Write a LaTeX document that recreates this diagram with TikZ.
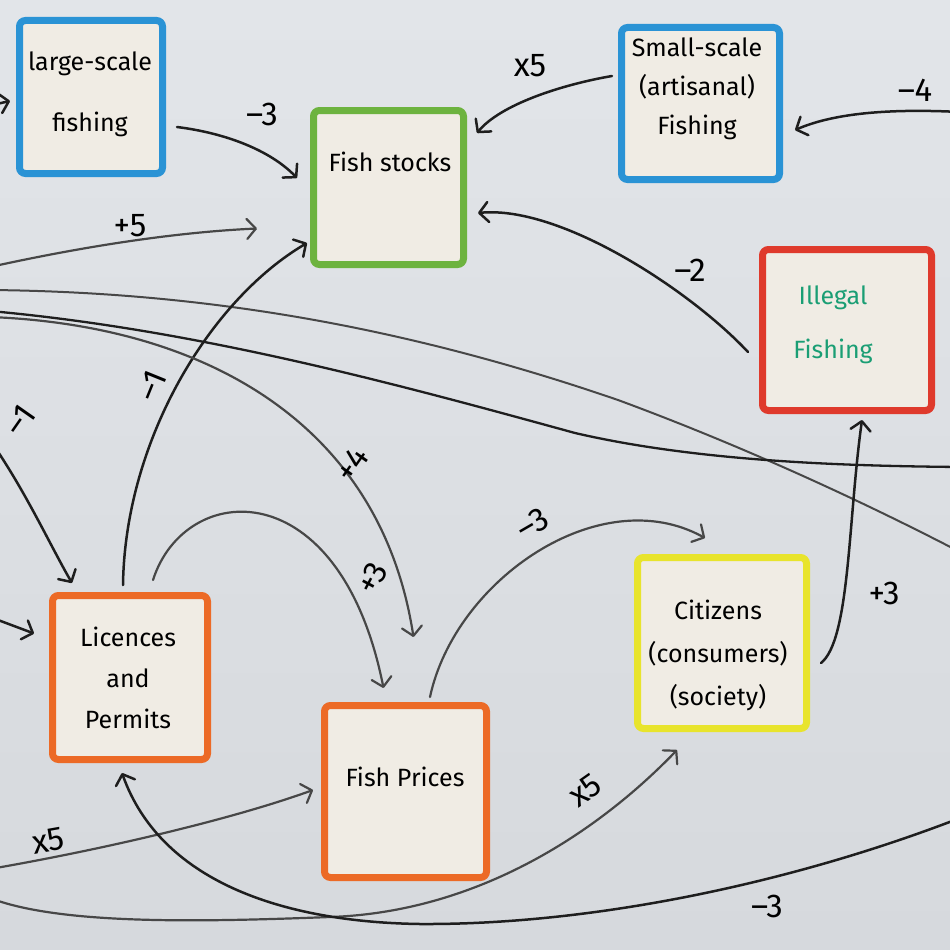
\documentclass[tikz,border=0pt]{standalone}
\usepackage{fontspec}
\setmainfont{Fira Sans}
\usetikzlibrary{arrows.meta,calc}
\definecolor{boardtop}{HTML}{E2E5E9}
\definecolor{boardbot}{HTML}{D6D9DD}
\definecolor{cardfill}{HTML}{F0ECE4}
\definecolor{cblue}{HTML}{2A93D5}
\definecolor{cgreen}{HTML}{6DB33F}
\definecolor{cred}{HTML}{DF3A2C}
\definecolor{corange}{HTML}{EC6A26}
\definecolor{cyellow}{HTML}{E8E42C}
\definecolor{teal}{HTML}{1A9E74}
\definecolor{ink}{HTML}{1E1E1E}
\definecolor{inkgrey}{HTML}{474747}
\tikzset{
  card/.style={draw=#1, line width=7pt, fill=cardfill, rounded corners=6pt, inner sep=0pt},
  ctext/.style={font=\fontsize{25}{#1}\selectfont, align=center, text=black, inner sep=0pt},
  ctext/.default=40,
  lab/.style={font=\fontsize{33}{33}\selectfont, inner sep=0pt, text=black},
  conn/.style={draw=ink, line width=2.5pt, line cap=round, line join=round,
    -{Straight Barb[length=9pt,width=20pt,round]}},
  gconn/.style={conn, draw=inkgrey, line width=2.2pt},
  plain/.style={draw=ink, line width=2.3pt, line cap=round},
}
\begin{document}
\begin{tikzpicture}[x=1pt,y=-1pt]
\useasboundingbox (0,0) rectangle (950,950);
\shade[top color=boardtop, bottom color=boardbot] (0,0) rectangle (950,950);

% cards
\node[card=cblue,   minimum width=143pt, minimum height=153pt] (LS) at (91,97) {};
\node[card=cgreen,  minimum width=150pt, minimum height=154pt] (FS) at (388.5,187.5) {};
\node[card=cblue,   minimum width=158pt, minimum height=152pt] (SS) at (700.5,103.5) {};
\node[card=cred,    minimum width=169pt, minimum height=161pt] (IF) at (847,330) {};
\node[card=corange, minimum width=155pt, minimum height=164pt] (LP) at (130,677.5) {};
\node[card=corange, minimum width=162pt, minimum height=172pt] (FP) at (405.5,791.5) {};
\node[card=cyellow, minimum width=169pt, minimum height=171pt] (CZ) at (722,643) {};

% card texts
\node[ctext=61] (LStx) at (90,94) {large-scale\\fishing};
\node[ctext] (FStx) at (390,162) {Fish stocks};
\node[ctext=39] (SStx) at (697,89) {Small-scale\\(artisanal)\\Fishing};
\node[ctext=54, text=teal] (IFtx) at (833,325) {Illegal\\Fishing};
\node[ctext=41] (LPtx) at (128,678) {Licences\\and\\Permits};
\node[ctext] (FPtx) at (405,777) {Fish Prices};
\node[ctext=43] (CZtx) at (718,655) {Citizens\\(consumers)\\(society)};

% off-picture ends
\coordinate (L0) at (-30,110);
\coordinate (R4) at (960,112);
\coordinate (L5) at (-10,267);
\coordinate (LG) at (-10,290);
\coordinate (RG) at (960,552);
\coordinate (LB) at (-10,311);
\coordinate (RB) at (960,467);
\coordinate (L10) at (-10,317);
\coordinate (L7) at (-10,440);
\coordinate (L8) at (-10,617);
\coordinate (L13) at (-10,869);
\coordinate (L14) at (-10,898);
\coordinate (M14) at (330,917);
\coordinate (R15) at (960,818);
\coordinate (M15) at (420,924);
\coordinate (MG) at (618,400);
\coordinate (MB) at (575,433);

% long lines crossing the board
\draw[plain, draw=inkgrey, line width=2pt] (LG) .. controls (200,292) and (400,325) .. (MG)
   .. controls (740,445) and (860,500) .. (RG);
\draw[plain] (LB) .. controls (200,330) and (400,385) .. (MB)
   .. controls (700,462) and (850,466) .. (RB);

% connectors
\draw[conn] (L0) -- ($(LS.west)+(-6,4)$);
\draw[conn] ($(LS.east)+(11,30)$) .. controls (225,133) and (270,150) .. ($(FS.west)+(-13,-9.5)$);
\draw[conn] ($(SS.west)+(-6,-27.5)$) .. controls (560,85) and (500,105) .. ($(FS.north east)+(10,26)$);
\draw[conn] (R4) .. controls (880,108) and (830,115) .. ($(SS.east)+(12,26.5)$);
\draw[conn] ($(IF.west)+(-11,22)$) .. controls (690,290) and (560,205) .. ($(FS.east)+(11,25.5)$);
\draw[gconn] (L5) .. controls (90,245) and (180,232) .. ($(FS.west)+(-53,41)$);
\draw[conn] ($(LP.north)+(-7,-7)$) .. controls (125,440) and (210,300) .. ($(FS.south west)+(-3,-25)$);
\draw[conn] (L7) .. controls (25,490) and (50,545) .. ($(LP.north west)+(23,-9)$);
\draw[conn] (L8) -- ($(LP.west)+(-15,-44)$);
\draw[gconn] ($(LP.north)+(23,-12)$) .. controls (185,480) and (340,470) .. ($(FP.north)+(-22,-14)$);
\draw[gconn] (L10) .. controls (200,325) and (380,420) .. ($(FP.north)+(8,-65)$);
\draw[gconn] ($(FP.north)+(24.5,-5)$) .. controls (455,580) and (600,480) .. ($(CZ.north)+(-17,-16)$);
\draw[conn] ($(CZ.east)+(11,20)$) .. controls (850,640) and (848,520) .. ($(IF.south)+(15,6)$);
\draw[gconn] (L13) .. controls (100,850) and (230,820) .. ($(FP.west)+(-8,-1.5)$);
\draw[gconn] (L14) .. controls (60,925) and (200,922) .. (M14)
   .. controls (480,912) and (600,830) .. ($(CZ.south)+(-45,18)$);
\draw[conn] (R15) .. controls (800,880) and (600,925) .. (M15)
   .. controls (280,922) and (160,880) .. ($(LP.south)+(-8,10)$);

% labels
\node[lab] (l1) at (262,114) {–3};
\node[lab] (l2) at (530,66) {x5};
\node[lab] (l3) at (915,90) {–4};
\node[lab] (l4) at (690,270) {–2};
\node[lab] (l5) at (130,226) {+5};
\node[lab, rotate=68] (l6) at (152,386) {–1};
\node[lab, rotate=55] (l7) at (20,420) {–1};
\node[lab, rotate=62] (l8) at (372,578) {+3};
\node[lab, rotate=55] (l9) at (352,464) {+4};
\node[lab, rotate=30] (l10) at (533,524) {–3};
\node[lab] (l11) at (884,593) {+3};
\node[lab, rotate=10] (l12) at (48,841) {x5};
\node[lab, rotate=35] (l13) at (585,790) {x5};
\node[lab] (l14) at (767,906) {–3};
\end{tikzpicture}
\end{document}
